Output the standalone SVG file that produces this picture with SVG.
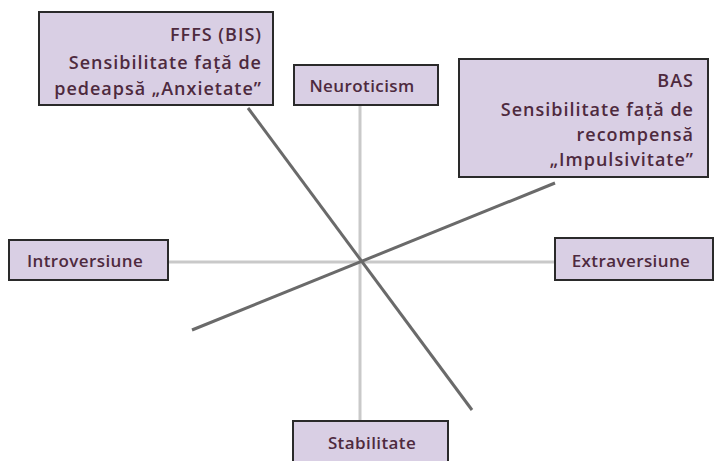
<svg xmlns="http://www.w3.org/2000/svg" width="715" height="461" viewBox="0 0 715 461">
<style>
.box{fill:#d9cfe4;stroke:#2a2a2a;stroke-width:2}
.t{font-family:"Open Sans","Liberation Sans",sans-serif;font-weight:600;font-size:17px;letter-spacing:0.4px;fill:#4e2a3e}
.big{font-size:18px;letter-spacing:1px}
.r{text-anchor:end}
.c{text-anchor:middle}
.axis{stroke:#c9c9c9;stroke-width:3;fill:none}
.diag{stroke:#6a6a6a;stroke-width:3;fill:none}
</style>
<rect width="715" height="461" fill="#ffffff"/>
<g id="connectors">
<line class="axis" x1="360" y1="105" x2="360" y2="421"/>
<line class="axis" x1="168" y1="262" x2="555" y2="262"/>
<line class="diag" x1="248" y1="108" x2="472" y2="410"/>
<line class="diag" x1="192" y1="330" x2="555" y2="183"/>
</g>
<g id="fffs">
<rect class="box" x="39" y="12" width="234" height="93"/>
<text class="t big r" x="262" y="41">FFFS (BIS)</text>
<text class="t big r" x="262" y="69">Sensibilitate față de</text>
<text class="t big r" x="262" y="95">pedeapsă „Anxietate”</text>
</g>
<g id="neuroticism">
<rect class="box" x="294" y="65" width="144" height="40"/>
<text class="t c" x="362" y="92">Neuroticism</text>
</g>
<g id="bas">
<rect class="box" x="459" y="59" width="249" height="118"/>
<text class="t big r" x="694" y="87">BAS</text>
<text class="t big r" x="694" y="116">Sensibilitate față de</text>
<text class="t big r" x="694" y="141">recompensă</text>
<text class="t big r" x="694" y="166">„Impulsivitate”</text>
</g>
<g id="introversiune">
<rect class="box" x="9" y="240" width="159" height="40"/>
<text class="t c" x="85" y="267">Introversiune</text>
</g>
<g id="extraversiune">
<rect class="box" x="555" y="238" width="158" height="42"/>
<text class="t c" x="631" y="267">Extraversiune</text>
</g>
<g id="stabilitate">
<rect class="box" x="293" y="421" width="155" height="45"/>
<text class="t c" x="372" y="449">Stabilitate</text>
</g>
</svg>
